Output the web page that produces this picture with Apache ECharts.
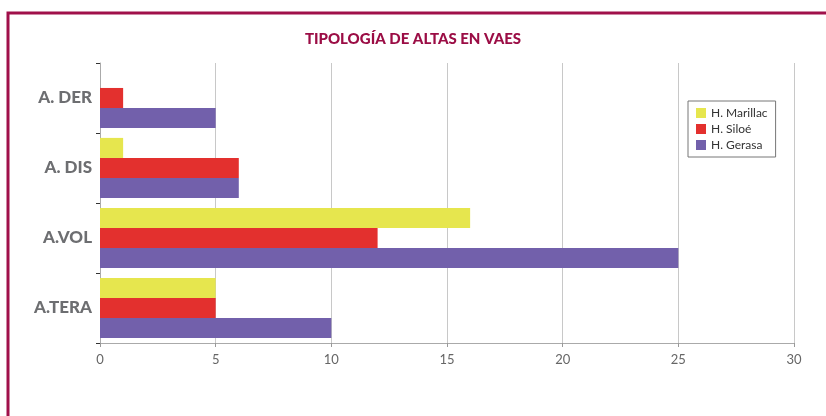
<!DOCTYPE html>
<html>
<head>
<meta charset="utf-8">
<script src="https://cdn.jsdelivr.net/npm/echarts@6/dist/echarts.min.js"></script>
<style>
  html, body { margin: 0; padding: 0; background: #fff; }
  #chart { width: 826px; height: 416px; }
</style>
</head>
<body>
<div id="chart"></div>
<script>
  // categories from top to bottom
  const categories = ['A. DER', 'A. DIS', 'A.VOL', 'A.TERA'];
  const marillac = [0, 1, 16, 5];
  const siloe = [1, 6, 12, 5];
  const gerasa = [5, 6, 25, 10];
  const xTicks = [0, 5, 10, 15, 20, 25, 30];

  let myChart = echarts.init(document.getElementById('chart'));

  let option = {
    animation: false,
    title: {
      text: 'TIPOLOGÍA DE ALTAS EN VAES',
      left: 'center',
      top: 27,
      textStyle: {
        color: '#9b0d45',
        fontFamily: 'Lato',
        fontWeight: 900,
        fontSize: 15
      }
    },
    graphic: [{
      type: 'rect',
      shape: { x: 8, y: 13, width: 840, height: 420 },
      style: { fill: 'none', stroke: '#a0104a', lineWidth: 3 },
      silent: true
    }],
    legend: {
      orient: 'vertical',
      left: 688,
      top: 101,
      width: 90,
      padding: [6, 8, 6, 8],
      itemGap: 4,
      itemWidth: 10,
      itemHeight: 10,
      borderColor: '#777',
      borderWidth: 1,
      borderRadius: 0,
      icon: 'rect',
      textStyle: { color: '#333', fontFamily: 'Lato', fontSize: 12 },
      data: ['H. Marillac', 'H. Siloé', 'H. Gerasa']
    },
    grid: { left: 100, right: 32, top: 63, bottom: 73 },
    xAxis: {
      type: 'value',
      min: 0,
      max: 30,
      interval: 5,
      axisLine: { show: true, lineStyle: { color: '#aaa' } },
      axisTick: { show: true, length: 4, lineStyle: { color: '#999' } },
      axisLabel: {
        color: '#666',
        fontFamily: 'Lato',
        fontSize: 13,
        margin: 10,
        formatter: v => (xTicks.includes(v) ? String(v) : '')
      },
      splitLine: { show: true, lineStyle: { color: '#c8c8c8' } }
    },
    yAxis: {
      type: 'category',
      inverse: true,
      data: categories,
      axisLine: { show: true, lineStyle: { color: '#aaa' } },
      axisTick: { show: true, length: 4, lineStyle: { color: '#333' } },
      axisLabel: {
        color: '#6d6e71',
        fontFamily: 'Lato',
        fontWeight: 900,
        fontSize: 17,
        margin: 8
      }
    },
    series: [
      {
        name: 'H. Marillac', type: 'bar', data: marillac,
        itemStyle: { color: '#e6e64e' }, barGap: '0%', barCategoryGap: '14%'
      },
      {
        name: 'H. Siloé', type: 'bar', data: siloe,
        itemStyle: { color: '#e3302e' }, barGap: '0%', barCategoryGap: '14%'
      },
      {
        name: 'H. Gerasa', type: 'bar', data: gerasa,
        itemStyle: { color: '#7260ab' }, barGap: '0%', barCategoryGap: '14%'
      }
    ]
  };

  myChart.setOption(option);
</script>
</body>
</html>
